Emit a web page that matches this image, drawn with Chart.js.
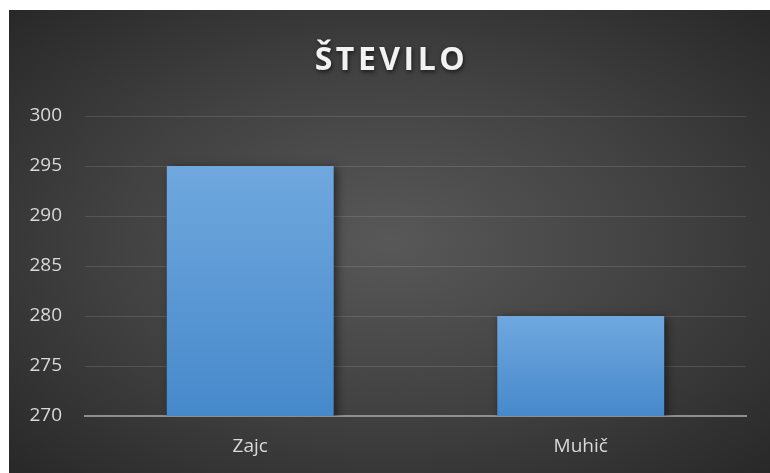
<!DOCTYPE html>
<html lang="sl">
<head>
<meta charset="UTF-8">
<script src="https://cdn.jsdelivr.net/npm/chart.js"></script>
<style>
    body {
        margin: 0;
        background: #ffffff;
    }
    .frame {
        position: absolute;
        left: 9px;
        top: 10px;
        width: 761px;
        height: 463px;
        background: radial-gradient(ellipse at 50% 50%, #585858 0%, #424242 50%, #282828 100%);
    }
    canvas {
        display: block;
    }
</style>
</head>
<body>
<div class="frame">
    <canvas id="chart" width="761" height="463"></canvas>
</div>
<script>
    const chartTitle = 'ŠTEVILO';
    const categories = ['Zajc', 'Muhič'];
    const values = [295, 280];
    const yTicks = [270, 275, 280, 285, 290, 295, 300];

    // bar fill: lighter at the top, darker toward the axis
    function barFill(context) {
        const chart = context.chart;
        const y = chart.scales.y;
        if (!chart.chartArea || !y || context.dataIndex === undefined) return '#5b9bd5';
        const top = y.getPixelForValue(values[context.dataIndex]);
        const bottom = y.getPixelForValue(yTicks[0]);
        if (!isFinite(top) || !isFinite(bottom)) return '#5b9bd5';
        const g = chart.ctx.createLinearGradient(0, top, 0, bottom);
        g.addColorStop(0, '#70a8de');
        g.addColorStop(1, '#4689cb');
        return g;
    }

    const barShadow = {
        id: 'barShadow',
        beforeDatasetsDraw(chart) {
            const ctx = chart.ctx;
            ctx.save();
            ctx.shadowColor = 'rgba(0, 0, 0, 0.55)';
            ctx.shadowBlur = 9;
            ctx.shadowOffsetX = 3;
            ctx.shadowOffsetY = 2;
        },
        afterDatasetsDraw(chart) {
            chart.ctx.restore();
        }
    };

    const titleText = {
        id: 'titleText',
        afterDraw(chart) {
            const ctx = chart.ctx;
            ctx.save();
            ctx.font = 'bold 32px "Open Sans", sans-serif';
            ctx.letterSpacing = '3.5px';
            ctx.fillStyle = '#f2f2f2';
            ctx.textAlign = 'center';
            ctx.textBaseline = 'middle';
            ctx.shadowColor = 'rgba(0, 0, 0, 0.6)';
            ctx.shadowBlur = 4;
            ctx.shadowOffsetX = 1;
            ctx.shadowOffsetY = 2;
            ctx.fillText(chartTitle, chart.width / 2 + 2, 51);
            ctx.restore();
        }
    };

    const ctx = document.getElementById('chart').getContext('2d');

    new Chart(ctx, {
        type: 'bar',
        data: {
            labels: categories,
            datasets: [{
                data: values,
                backgroundColor: barFill,
                borderWidth: 0,
                barPercentage: 0.505,
                categoryPercentage: 1
            }]
        },
        options: {
            responsive: false,
            animation: false,
            layout: {
                padding: { top: 106, right: 24, bottom: 0, left: 0 }
            },
            plugins: {
                legend: { display: false },
                title: { display: false },
                tooltip: { enabled: false }
            },
            scales: {
                x: {
                    afterFit(scale) { scale.height = 57; },
                    grid: { display: false, drawTicks: false },
                    border: { display: true, color: '#8f8f8f', width: 2 },
                    ticks: {
                        color: '#d9d9d9',
                        font: { family: '"Open Sans", sans-serif', size: 19 },
                        padding: 19
                    }
                },
                y: {
                    min: yTicks[0],
                    max: yTicks[yTicks.length - 1],
                    afterFit(scale) { scale.width = 76; },
                    afterBuildTicks(scale) {
                        scale.ticks = yTicks.map(v => ({ value: v }));
                    },
                    grid: {
                        color: 'rgba(255, 255, 255, 0.12)',
                        drawTicks: false
                    },
                    border: { display: false },
                    ticks: {
                        color: '#d9d9d9',
                        font: { family: '"Open Sans", sans-serif', size: 19 },
                        padding: 23
                    }
                }
            }
        },
        plugins: [barShadow, titleText]
    });
</script>
</body>
</html>
